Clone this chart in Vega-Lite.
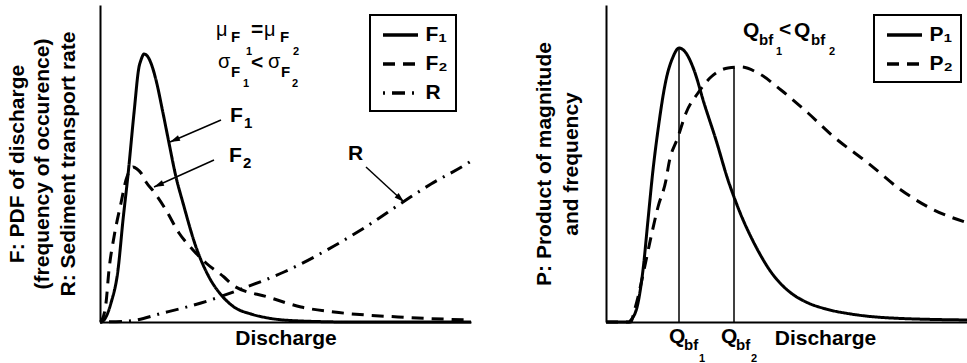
{
  "$schema": "https://vega.github.io/schema/vega-lite/v6.json",
  "padding": {"left": 6, "top": 5, "right": 0, "bottom": 0},
  "bounds": "flush",
  "spacing": 135,
  "config": {
    "view": {"stroke": null},
    "font": "Liberation Sans",
    "axis": {"domainColor": "black", "domainWidth": 2, "ticks": false, "labels": false, "grid": false, "titleFont": "Liberation Sans", "titleFontSize": 21, "titleFontWeight": "bold", "titleColor": "black"},
    "legend": {"title": null, "orient": "none", "direction": "vertical", "padding": 8, "strokeColor": "black", "strokeWidth": 2, "fillColor": "white", "symbolStrokeWidth": 3.5, "symbolStrokeColor": "black", "labelFont": "Liberation Sans", "labelFontSize": 21, "labelFontWeight": "bold", "labelColor": "black", "rowPadding": 7}
  },
  "datasets": {
    "leftCurves": [
      {"curve": "F₁", "discharge": 0, "value": 0}, {"curve": "F₁", "discharge": 1, "value": 0}, {"curve": "F₁", "discharge": 4, "value": 2}, {"curve": "F₁", "discharge": 11, "value": 19}, {"curve": "F₁", "discharge": 18, "value": 52}, {"curve": "F₁", "discharge": 23, "value": 102}, {"curve": "F₁", "discharge": 28, "value": 147}, {"curve": "F₁", "discharge": 34, "value": 209}, {"curve": "F₁", "discharge": 39, "value": 255}, {"curve": "F₁", "discharge": 41, "value": 262}, {"curve": "F₁", "discharge": 44, "value": 268}, {"curve": "F₁", "discharge": 48, "value": 265}, {"curve": "F₁", "discharge": 52, "value": 256}, {"curve": "F₁", "discharge": 56, "value": 242}, {"curve": "F₁", "discharge": 63, "value": 209}, {"curve": "F₁", "discharge": 69, "value": 179}, {"curve": "F₁", "discharge": 76, "value": 145}, {"curve": "F₁", "discharge": 83, "value": 119}, {"curve": "F₁", "discharge": 96, "value": 75}, {"curve": "F₁", "discharge": 109, "value": 45}, {"curve": "F₁", "discharge": 123, "value": 25}, {"curve": "F₁", "discharge": 134, "value": 15}, {"curve": "F₁", "discharge": 151, "value": 8}, {"curve": "F₁", "discharge": 168, "value": 4}, {"curve": "F₁", "discharge": 201, "value": 1}, {"curve": "F₁", "discharge": 251, "value": 0}, {"curve": "F₁", "discharge": 371, "value": 0},
      {"curve": "F₂", "discharge": 0, "value": 0}, {"curve": "F₂", "discharge": 2, "value": 2}, {"curve": "F₂", "discharge": 6, "value": 19}, {"curve": "F₂", "discharge": 9, "value": 52}, {"curve": "F₂", "discharge": 14, "value": 85}, {"curve": "F₂", "discharge": 21, "value": 119}, {"curve": "F₂", "discharge": 26, "value": 142}, {"curve": "F₂", "discharge": 30, "value": 152}, {"curve": "F₂", "discharge": 33, "value": 155}, {"curve": "F₂", "discharge": 37, "value": 153}, {"curve": "F₂", "discharge": 41, "value": 149}, {"curve": "F₂", "discharge": 46, "value": 140}, {"curve": "F₂", "discharge": 54, "value": 130}, {"curve": "F₂", "discharge": 66, "value": 112}, {"curve": "F₂", "discharge": 79, "value": 89}, {"curve": "F₂", "discharge": 93, "value": 72}, {"curve": "F₂", "discharge": 106, "value": 59}, {"curve": "F₂", "discharge": 124, "value": 45}, {"curve": "F₂", "discharge": 134, "value": 36}, {"curve": "F₂", "discharge": 168, "value": 25}, {"curve": "F₂", "discharge": 201, "value": 15}, {"curve": "F₂", "discharge": 234, "value": 10}, {"curve": "F₂", "discharge": 298, "value": 5}, {"curve": "F₂", "discharge": 371, "value": 2},
      {"curve": "R", "discharge": 0, "value": 0}, {"curve": "R", "discharge": 29, "value": 1}, {"curve": "R", "discharge": 63, "value": 9}, {"curve": "R", "discharge": 101, "value": 19}, {"curve": "R", "discharge": 144, "value": 34}, {"curve": "R", "discharge": 184, "value": 50}, {"curve": "R", "discharge": 234, "value": 76}, {"curve": "R", "discharge": 264, "value": 94}, {"curve": "R", "discharge": 306, "value": 122}, {"curve": "R", "discharge": 331, "value": 138}, {"curve": "R", "discharge": 368, "value": 159}, {"curve": "R", "discharge": 371, "value": 161}
    ],
    "leftArrows": [
      {"label": "F1", "x": 121, "y": 202, "x2": 70, "y2": 180},
      {"label": "F2", "x": 114, "y": 162, "x2": 54, "y2": 135},
      {"label": "R", "x": 266, "y": 155, "x2": 304, "y2": 120}
    ],
    "leftMain": [
      {"x": 130, "y": 200, "text": "F"}, {"x": 129, "y": 160, "text": "F"}, {"x": 248, "y": 162, "text": "R"}, {"x": 151, "y": 286, "text": "="}, {"x": 151, "y": 253, "text": "<"}
    ],
    "leftSub": [
      {"x": 144, "y": 194, "text": "1"}, {"x": 143, "y": 154, "text": "2"}, {"x": 131, "y": 280, "text": "F"}, {"x": 180, "y": 280, "text": "F"}, {"x": 131, "y": 245, "text": "F"}, {"x": 181, "y": 245, "text": "F"}
    ],
    "leftSubSub": [
      {"x": 146, "y": 267, "text": "1"}, {"x": 193, "y": 267, "text": "2"}, {"x": 143, "y": 235, "text": "1"}, {"x": 192, "y": 235, "text": "2"}
    ],
    "leftGreek": [
      {"x": 116, "y": 286, "text": "μ"}, {"x": 164, "y": 286, "text": "μ"}, {"x": 118, "y": 254, "text": "σ"}, {"x": 168, "y": 254, "text": "σ"}
    ],
    "rightCurves": [
      {"curve": "P₁", "discharge": 0, "value": 0}, {"curve": "P₁", "discharge": 23, "value": 0}, {"curve": "P₁", "discharge": 25, "value": 2}, {"curve": "P₁", "discharge": 32, "value": 19}, {"curve": "P₁", "discharge": 37, "value": 52}, {"curve": "P₁", "discharge": 42, "value": 102}, {"curve": "P₁", "discharge": 47, "value": 152}, {"curve": "P₁", "discharge": 52, "value": 192}, {"curve": "P₁", "discharge": 60, "value": 242}, {"curve": "P₁", "discharge": 67, "value": 265}, {"curve": "P₁", "discharge": 73, "value": 274}, {"curve": "P₁", "discharge": 80, "value": 269}, {"curve": "P₁", "discharge": 88, "value": 252}, {"curve": "P₁", "discharge": 98, "value": 219}, {"curve": "P₁", "discharge": 110, "value": 182}, {"curve": "P₁", "discharge": 122, "value": 142}, {"curve": "P₁", "discharge": 128, "value": 125}, {"curve": "P₁", "discharge": 135, "value": 107}, {"curve": "P₁", "discharge": 145, "value": 85}, {"curve": "P₁", "discharge": 155, "value": 66}, {"curve": "P₁", "discharge": 165, "value": 50}, {"curve": "P₁", "discharge": 175, "value": 38}, {"curve": "P₁", "discharge": 185, "value": 29}, {"curve": "P₁", "discharge": 200, "value": 20}, {"curve": "P₁", "discharge": 220, "value": 13}, {"curve": "P₁", "discharge": 245, "value": 8}, {"curve": "P₁", "discharge": 285, "value": 4}, {"curve": "P₁", "discharge": 362, "value": 2},
      {"curve": "P₂", "discharge": 0, "value": 0}, {"curve": "P₂", "discharge": 25, "value": 0}, {"curve": "P₂", "discharge": 28, "value": 10}, {"curve": "P₂", "discharge": 32, "value": 25}, {"curve": "P₂", "discharge": 38, "value": 52}, {"curve": "P₂", "discharge": 45, "value": 85}, {"curve": "P₂", "discharge": 52, "value": 115}, {"curve": "P₂", "discharge": 60, "value": 142}, {"curve": "P₂", "discharge": 63, "value": 159}, {"curve": "P₂", "discharge": 72, "value": 185}, {"curve": "P₂", "discharge": 80, "value": 209}, {"curve": "P₂", "discharge": 92, "value": 229}, {"curve": "P₂", "discharge": 105, "value": 245}, {"curve": "P₂", "discharge": 122, "value": 254}, {"curve": "P₂", "discharge": 135, "value": 255}, {"curve": "P₂", "discharge": 152, "value": 249}, {"curve": "P₂", "discharge": 175, "value": 232}, {"curve": "P₂", "discharge": 202, "value": 209}, {"curve": "P₂", "discharge": 228, "value": 185}, {"curve": "P₂", "discharge": 262, "value": 159}, {"curve": "P₂", "discharge": 295, "value": 132}, {"curve": "P₂", "discharge": 328, "value": 112}, {"curve": "P₂", "discharge": 362, "value": 99}
    ],
    "rightPeaks": [
      {"discharge": 73, "top": 274}, {"discharge": 128, "top": 254}
    ],
    "rightMain": [
      {"x": 137, "y": 285, "text": "Q"}, {"x": 173, "y": 286, "text": "<"}, {"x": 188, "y": 285, "text": "Q"}, {"x": 63, "y": -21, "text": "Q"}, {"x": 115, "y": -21, "text": "Q"}
    ],
    "rightSub": [
      {"x": 153, "y": 277, "text": "bf"}, {"x": 205, "y": 277, "text": "bf"}, {"x": 78, "y": -28, "text": "bf"}, {"x": 130, "y": -28, "text": "bf"}
    ],
    "rightSubSub": [
      {"x": 170, "y": 267, "text": "1"}, {"x": 223, "y": 267, "text": "2"}, {"x": 93, "y": -40, "text": "1"}, {"x": 145, "y": -40, "text": "2"}
    ]
  },
  "resolve": {"scale": {"x": "independent", "y": "independent", "strokeDash": "independent"}, "legend": {"strokeDash": "independent"}},
  "hconcat": [
    {
      "width": 371,
      "height": 317,
      "layer": [
        {
          "data": {"name": "leftCurves"},
          "mark": {"type": "line", "color": "black", "strokeWidth": 3, "interpolate": "monotone"},
          "encoding": {
            "x": {"field": "discharge", "type": "quantitative", "scale": {"domain": [0, 371], "nice": false, "zero": false}, "axis": {"title": "Discharge", "titlePadding": 5}},
            "y": {"field": "value", "type": "quantitative", "scale": {"domain": [0, 317], "nice": false}, "axis": {"title": ["F: PDF of discharge", "(frequency of occurence)", "R: Sediment transport rate"], "titlePadding": 22, "titleLineHeight": 25.5}},
            "strokeDash": {"field": "curve", "type": "nominal", "scale": {"domain": ["F₁", "F₂", "R"], "range": [[1, 0], [12, 8], [2, 7, 13, 7]]}, "legend": {"legendX": 270, "legendY": 10, "symbolType": "M-1.75,0L1.75,0", "symbolSize": 400, "symbolOffset": 10.5, "labelOffset": 13}}
          }
        },
        {
          "data": {"name": "leftArrows"},
          "mark": {"type": "rule", "color": "black", "strokeWidth": 1.5},
          "encoding": {"x": {"field": "x", "type": "quantitative"}, "y": {"field": "y", "type": "quantitative"}, "x2": {"field": "x2"}, "y2": {"field": "y2"}}
        },
        {
          "data": {"name": "leftArrows"},
          "transform": [{"filter": "datum.label == 'F1'"}],
          "mark": {"type": "point", "shape": "M0,0L-1,-0.3L-1,0.3Z", "filled": true, "color": "black", "opacity": 1, "size": 400, "angle": 156.7},
          "encoding": {"x": {"field": "x2", "type": "quantitative"}, "y": {"field": "y2", "type": "quantitative"}}
        },
        {
          "data": {"name": "leftArrows"},
          "transform": [{"filter": "datum.label == 'F2'"}],
          "mark": {"type": "point", "shape": "M0,0L-1,-0.3L-1,0.3Z", "filled": true, "color": "black", "opacity": 1, "size": 400, "angle": 155.8},
          "encoding": {"x": {"field": "x2", "type": "quantitative"}, "y": {"field": "y2", "type": "quantitative"}}
        },
        {
          "data": {"name": "leftArrows"},
          "transform": [{"filter": "datum.label == 'R'"}],
          "mark": {"type": "point", "shape": "M0,0L-1,-0.3L-1,0.3Z", "filled": true, "color": "black", "opacity": 1, "size": 400, "angle": 42.6},
          "encoding": {"x": {"field": "x2", "type": "quantitative"}, "y": {"field": "y2", "type": "quantitative"}}
        },
        {
          "data": {"name": "leftMain"},
          "mark": {"type": "text", "align": "left", "baseline": "alphabetic", "font": "Liberation Sans", "fontSize": 21, "fontWeight": "bold", "color": "black"},
          "encoding": {"x": {"field": "x", "type": "quantitative"}, "y": {"field": "y", "type": "quantitative"}, "text": {"field": "text"}}
        },
        {
          "data": {"name": "leftSub"},
          "mark": {"type": "text", "align": "left", "baseline": "alphabetic", "font": "Liberation Sans", "fontSize": 15, "fontWeight": "bold", "color": "black"},
          "encoding": {"x": {"field": "x", "type": "quantitative"}, "y": {"field": "y", "type": "quantitative"}, "text": {"field": "text"}}
        },
        {
          "data": {"name": "leftSubSub"},
          "mark": {"type": "text", "align": "left", "baseline": "alphabetic", "font": "Liberation Sans", "fontSize": 11, "fontWeight": "bold", "color": "black"},
          "encoding": {"x": {"field": "x", "type": "quantitative"}, "y": {"field": "y", "type": "quantitative"}, "text": {"field": "text"}}
        },
        {
          "data": {"name": "leftGreek"},
          "mark": {"type": "text", "align": "left", "baseline": "alphabetic", "font": "Liberation Sans", "fontSize": 20, "fontWeight": "normal", "color": "black"},
          "encoding": {"x": {"field": "x", "type": "quantitative"}, "y": {"field": "y", "type": "quantitative"}, "text": {"field": "text"}}
        }
      ]
    },
    {
      "width": 362,
      "height": 317,
      "layer": [
        {
          "data": {"name": "rightCurves"},
          "mark": {"type": "line", "color": "black", "strokeWidth": 3, "interpolate": "monotone"},
          "encoding": {
            "x": {"field": "discharge", "type": "quantitative", "scale": {"domain": [0, 362], "nice": false, "zero": false}, "axis": {"title": "Discharge", "titlePadding": 5, "titleX": 219, "titleAlign": "center"}},
            "y": {"field": "value", "type": "quantitative", "scale": {"domain": [0, 317], "nice": false}, "axis": {"title": ["P: Product of magnitude", "and frequency"], "titlePadding": 25, "titleLineHeight": 27}},
            "strokeDash": {"field": "curve", "type": "nominal", "scale": {"domain": ["P₁", "P₂"], "range": [[1, 0], [12, 8]]}, "legend": {"legendX": 268, "legendY": 10, "symbolType": "M-1.75,0L1.75,0", "symbolSize": 400, "symbolOffset": 10.5, "labelOffset": 13}}
          }
        },
        {
          "data": {"name": "rightPeaks"},
          "mark": {"type": "rule", "color": "black", "strokeWidth": 1.5},
          "encoding": {"x": {"field": "discharge", "type": "quantitative"}, "y": {"field": "top", "type": "quantitative"}, "y2": {"datum": 0}}
        },
        {
          "data": {"name": "rightMain"},
          "mark": {"type": "text", "align": "left", "baseline": "alphabetic", "font": "Liberation Sans", "fontSize": 21, "fontWeight": "bold", "color": "black"},
          "encoding": {"x": {"field": "x", "type": "quantitative"}, "y": {"field": "y", "type": "quantitative"}, "text": {"field": "text"}}
        },
        {
          "data": {"name": "rightSub"},
          "mark": {"type": "text", "align": "left", "baseline": "alphabetic", "font": "Liberation Sans", "fontSize": 15, "fontWeight": "bold", "color": "black"},
          "encoding": {"x": {"field": "x", "type": "quantitative"}, "y": {"field": "y", "type": "quantitative"}, "text": {"field": "text"}}
        },
        {
          "data": {"name": "rightSubSub"},
          "mark": {"type": "text", "align": "left", "baseline": "alphabetic", "font": "Liberation Sans", "fontSize": 11, "fontWeight": "bold", "color": "black"},
          "encoding": {"x": {"field": "x", "type": "quantitative"}, "y": {"field": "y", "type": "quantitative"}, "text": {"field": "text"}}
        }
      ]
    }
  ]
}
